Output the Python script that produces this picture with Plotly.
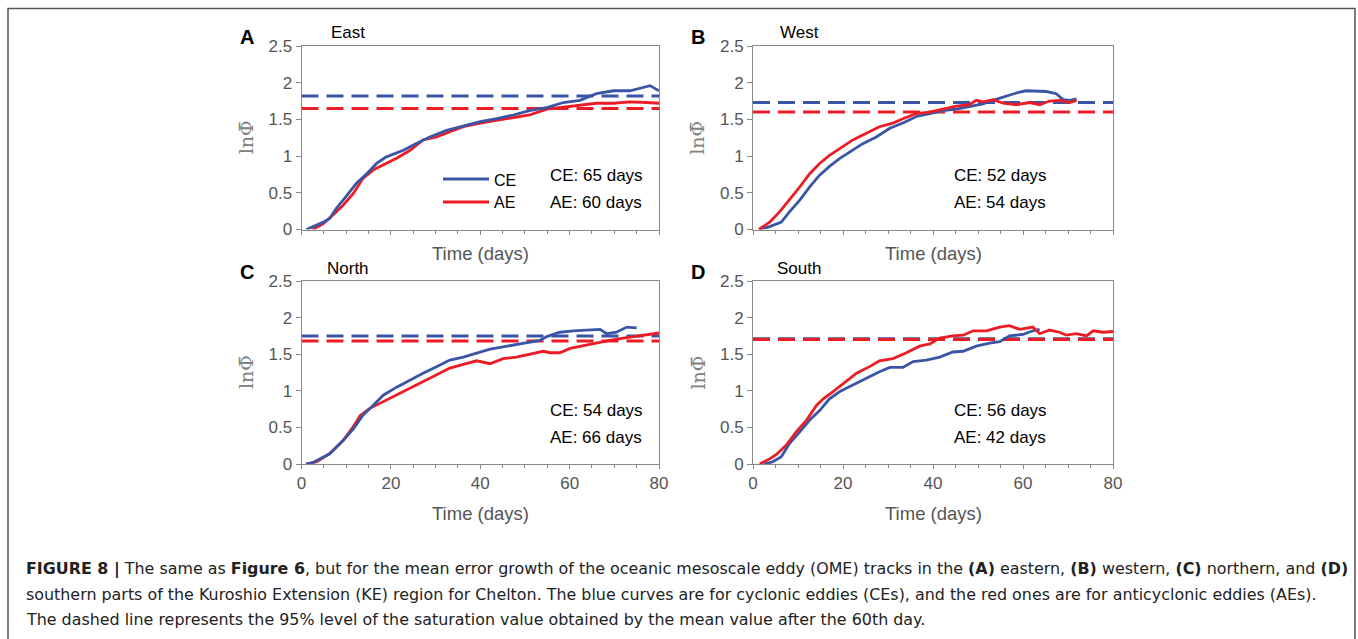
import plotly.graph_objects as go

W, H = 1358, 639

# ---------------- data ----------------
# Panel A (East)
east_ce_day = [1.1, 4.9, 6.3, 7.8, 10, 12.3, 14.6, 16.8, 19, 22.8, 25.7, 28.7, 32.5, 36.2, 40, 43.7, 47.4, 51, 54.9, 58.6, 62.3, 66, 69.8, 73.5, 75.7, 78, 80]
east_ce_val = [0, 0.10, 0.15, 0.29, 0.45, 0.63, 0.76, 0.90, 0.99, 1.08, 1.17, 1.26, 1.35, 1.41, 1.47, 1.51, 1.56, 1.62, 1.66, 1.73, 1.76, 1.85, 1.89, 1.89, 1.92, 1.96, 1.89]
east_ae_day = [2.5, 4.9, 7.1, 9.3, 11.6, 13.8, 16, 18.3, 21.3, 24.3, 27.2, 30.2, 33.2, 36.2, 40, 43.7, 47.4, 51, 54.9, 58.6, 62.3, 66, 69.8, 73.5, 77.2, 80]
east_ae_val = [0, 0.08, 0.20, 0.33, 0.49, 0.70, 0.81, 0.88, 0.97, 1.08, 1.22, 1.26, 1.33, 1.40, 1.45, 1.49, 1.53, 1.56, 1.64, 1.67, 1.69, 1.72, 1.72, 1.74, 1.73, 1.72]

# Panel B (West)
west_ce_day = [1.5, 3.7, 6.3, 8.1, 10.4, 12.6, 14.8, 17, 19.3, 21.5, 24.4, 27.4, 30.4, 33.3, 36.3, 39.3, 42.2, 45.2, 48.1, 51.1, 53.3, 56.3, 58.5, 60.7, 63, 65.2, 67.4, 68.9, 70.4, 71.9]
west_ce_val = [0, 0.04, 0.10, 0.24, 0.40, 0.58, 0.74, 0.86, 0.97, 1.06, 1.17, 1.26, 1.38, 1.45, 1.54, 1.58, 1.62, 1.64, 1.67, 1.71, 1.76, 1.82, 1.86, 1.89, 1.88, 1.88, 1.85, 1.77, 1.76, 1.78]
west_ae_day = [1.3, 3.7, 5.9, 8.1, 10.4, 12.6, 14.8, 17, 19.3, 22.2, 25.2, 28.1, 31.1, 33.3, 36.3, 39.3, 42.2, 45.2, 48.1, 49.6, 51.1, 53.3, 55.6, 58.5, 61.5, 63.7, 65.9, 68.1, 70.4, 71.9]
west_ae_val = [0, 0.10, 0.24, 0.40, 0.58, 0.76, 0.90, 1.01, 1.10, 1.22, 1.31, 1.40, 1.45, 1.51, 1.58, 1.60, 1.64, 1.68, 1.70, 1.76, 1.74, 1.77, 1.72, 1.70, 1.73, 1.70, 1.75, 1.76, 1.73, 1.76]

# Panel C (North)
north_ce_day = [1, 2.6, 6.3, 9.3, 11.6, 13.8, 16, 18.3, 21.3, 24.3, 27.2, 30.2, 33.2, 36.2, 39.2, 42.2, 45.1, 48.1, 51.1, 53.4, 54.9, 57.8, 60.8, 64.6, 66.8, 68.3, 70.5, 72.8, 75]
north_ce_val = [0, 0.02, 0.14, 0.32, 0.48, 0.67, 0.80, 0.94, 1.05, 1.15, 1.24, 1.33, 1.42, 1.46, 1.52, 1.57, 1.60, 1.63, 1.66, 1.69, 1.74, 1.80, 1.82, 1.83, 1.84, 1.78, 1.80, 1.87, 1.86]
north_ae_day = [1, 3.4, 6.3, 9.3, 11.6, 13.1, 15.3, 17.5, 20.5, 22.8, 25.7, 28.7, 31, 33.2, 36.2, 39.2, 42.2, 45.1, 48.1, 51.1, 54.1, 55.6, 57.8, 60.1, 63.1, 66, 69, 72, 75, 78, 80]
north_ae_val = [0, 0.03, 0.14, 0.32, 0.51, 0.66, 0.76, 0.83, 0.92, 0.99, 1.08, 1.17, 1.24, 1.31, 1.36, 1.41, 1.37, 1.44, 1.46, 1.50, 1.54, 1.52, 1.52, 1.58, 1.62, 1.66, 1.69, 1.72, 1.75, 1.77, 1.79]

# Panel D (South)
south_ce_day = [2.5, 4.4, 6.3, 8.1, 10.4, 12.6, 14.8, 17, 19.3, 22.2, 25.2, 28.1, 30.4, 33.3, 35.6, 38.5, 41.5, 44.4, 46.7, 49.6, 52.6, 54.8, 57, 60, 62.2, 63.7]
south_ce_val = [0, 0.03, 0.10, 0.28, 0.44, 0.60, 0.73, 0.89, 0.99, 1.08, 1.17, 1.26, 1.32, 1.32, 1.40, 1.42, 1.46, 1.53, 1.54, 1.61, 1.65, 1.67, 1.75, 1.77, 1.82, 1.84]
south_ae_day = [1.5, 3.7, 5.2, 7.4, 9.6, 11.9, 14.1, 15.6, 17.8, 20, 23, 25.9, 28.1, 31.1, 34.1, 37, 39.3, 41.5, 44.4, 46.7, 48.9, 51.9, 54.8, 57, 59.3, 62.2, 63.7, 65.9, 68.1, 69.6, 71.9, 74.1, 75.6, 77.8, 80]
south_ae_val = [0, 0.07, 0.13, 0.26, 0.44, 0.60, 0.80, 0.89, 0.99, 1.10, 1.24, 1.33, 1.41, 1.44, 1.52, 1.61, 1.64, 1.72, 1.75, 1.76, 1.82, 1.82, 1.87, 1.89, 1.84, 1.87, 1.78, 1.83, 1.80, 1.76, 1.78, 1.75, 1.82, 1.80, 1.81]

# 95% saturation levels (dashed lines): [CE, AE]
sat_east = [1.82, 1.65]
sat_west = [1.73, 1.60]
sat_north = [1.75, 1.68]
sat_south = [1.71, 1.70]

panel_letters = ["A", "B", "C", "D"]
panel_names = ["East", "West", "North", "South"]
ce_days_text = ["CE: 65 days", "CE: 52 days", "CE: 54 days", "CE: 56 days"]
ae_days_text = ["AE: 60 days", "AE: 54 days", "AE: 66 days", "AE: 42 days"]
x_ticks = [0, 20, 40, 60, 80]
y_ticks = [0, 0.5, 1, 1.5, 2, 2.5]
y_tick_labels = ["0", "0.5", "1", "1.5", "2", "2.5"]
legend_labels = ["CE", "AE"]

caption_lines = [
    "<b>FIGURE 8 |</b> The same as <b>Figure 6</b>, but for the mean error growth of the oceanic mesoscale eddy (OME) tracks in the <b>(A)</b> eastern, <b>(B)</b> western, <b>(C)</b> northern, and <b>(D)</b>",
    "southern parts of the Kuroshio Extension (KE) region for Chelton. The blue curves are for cyclonic eddies (CEs), and the red ones are for anticyclonic eddies (AEs).",
    "The dashed line represents the 95% level of the saturation value obtained by the mean value after the 60th day.",
]

BLUE = "#3A55A6"
RED = "#EC1C24"
AXIS_GREY = "#8a8a8a"
TICK_GREY = "#555555"
FONT = "Liberation Sans, Arial, sans-serif"
CAP_FONT = "DejaVu Sans, sans-serif"

panels = [
    (east_ce_day, east_ce_val, east_ae_day, east_ae_val, sat_east),
    (west_ce_day, west_ce_val, west_ae_day, west_ae_val, sat_west),
    (north_ce_day, north_ce_val, north_ae_day, north_ae_val, sat_north),
    (south_ce_day, south_ce_val, south_ae_day, south_ae_val, sat_south),
]

# panel pixel boxes (left, right, top, bottom)
boxes = [
    (301.5, 659, 46, 229.5),
    (753, 1113, 46, 229.5),
    (301.5, 659, 281, 464),
    (753, 1113, 281, 464),
]


def px(x):
    return x / W


def py(y):
    return 1 - y / H


fig = go.Figure()
layout = {}
annotations = []
shapes = []

for i, ((cd, cv, ad, av, sat), (l, r, t, b)) in enumerate(zip(panels, boxes)):
    n = "" if i == 0 else str(i + 1)
    xa, ya = "x" + n, "y" + n
    # dashed saturation lines
    fig.add_trace(go.Scatter(x=[0, 80], y=[sat[0], sat[0]], mode="lines", xaxis=xa, yaxis=ya,
                             line=dict(color=BLUE, width=3, dash="17px,8px"), showlegend=False, hoverinfo="skip"))
    fig.add_trace(go.Scatter(x=[0, 80], y=[sat[1], sat[1]], mode="lines", xaxis=xa, yaxis=ya,
                             line=dict(color=RED, width=3, dash="17px,8px"), showlegend=False, hoverinfo="skip"))
    # curves
    if i in (0, 2):
        order = [(ad, av, RED), (cd, cv, BLUE)]
    else:
        order = [(cd, cv, BLUE), (ad, av, RED)]
    for d, v, c in order:
        fig.add_trace(go.Scatter(x=d, y=v, mode="lines", xaxis=xa, yaxis=ya,
                                 line=dict(color=c, width=2.8), showlegend=False))

    bottom_row = i >= 2
    layout["xaxis" + n] = dict(
        domain=[px(l), px(r)], anchor=ya, range=[0, 80], tickvals=x_ticks,
        showticklabels=bottom_row, ticks="outside", ticklen=4, tickcolor=AXIS_GREY,
        minor=dict(dtick=5, ticks="outside", ticklen=3, tickcolor=AXIS_GREY),
        showline=True, linecolor=AXIS_GREY, linewidth=1, mirror=True, automargin=False,
        showgrid=False, zeroline=False, tickfont=dict(size=17, color=TICK_GREY, family=FONT),
        fixedrange=True,
    )
    layout["yaxis" + n] = dict(
        domain=[py(b), py(t)], anchor=xa, range=[0, 2.5], tickvals=y_ticks, ticktext=y_tick_labels,
        ticks="outside", ticklen=5, tickcolor=AXIS_GREY, automargin=False,
        showline=True, linecolor=AXIS_GREY, linewidth=1, mirror=True,
        showgrid=False, zeroline=False, tickfont=dict(size=17, color=TICK_GREY, family=FONT),
        fixedrange=True,
    )

    cx = (l + r) / 2
    cy = (t + b) / 2
    # panel letter
    annotations.append(dict(x=px(l - 55), y=py(t - 9), xref="paper", yref="paper", text="<b>%s</b>" % panel_letters[i],
                            showarrow=False, font=dict(size=20, color="black", family=FONT), xanchor="center", yanchor="middle"))
    # region name
    annotations.append(dict(x=px(l + 46), y=py(t - 13), xref="paper", yref="paper", text=panel_names[i],
                            showarrow=False, font=dict(size=17, color="black", family=FONT), xanchor="center", yanchor="middle"))
    # x title
    xt_y = b + 24 if not bottom_row else b + 49
    annotations.append(dict(x=px(cx), y=py(xt_y), xref="paper", yref="paper", text="Time (days)",
                            showarrow=False, font=dict(size=18.5, color=TICK_GREY, family=FONT), xanchor="center", yanchor="middle"))
    # y title
    annotations.append(dict(x=px(l - 56), y=py(cy), xref="paper", yref="paper", text="ln\u03a6\u0304",
                            showarrow=False, textangle=-90,
                            font=dict(size=19, color="#808080", family="DejaVu Serif, serif"),
                            xanchor="center", yanchor="middle"))
    # stats text
    tx = l + 246 if i % 2 == 0 else l + 199
    annotations.append(dict(x=px(tx), y=py(b - 54), xref="paper", yref="paper", text=ce_days_text[i],
                            showarrow=False, font=dict(size=17, color="black", family=FONT), xanchor="left", yanchor="middle"))
    annotations.append(dict(x=px(tx), y=py(b - 27), xref="paper", yref="paper", text=ae_days_text[i],
                            showarrow=False, font=dict(size=17, color="black", family=FONT), xanchor="left", yanchor="middle"))

# legend in panel A
for k, (lab, col, yy) in enumerate([(legend_labels[0], BLUE, 179), (legend_labels[1], RED, 202)]):
    shapes.append(dict(type="line", xref="paper", yref="paper", x0=px(443), x1=px(489), y0=py(yy), y1=py(yy),
                       line=dict(color=col, width=2.8)))
    annotations.append(dict(x=px(492), y=py(yy + 1), xref="paper", yref="paper", text=lab, showarrow=False,
                            font=dict(size=16, color="black", family=FONT), xanchor="left", yanchor="middle"))

# caption
for k, line in enumerate(caption_lines):
    annotations.append(dict(x=px(24), y=py(569 + 25 * k), xref="paper", yref="paper", text=line, showarrow=False,
                            font=dict(size=15.9, color="#222222", family=CAP_FONT), xanchor="left", yanchor="middle"))

# outer frame
shapes.append(dict(type="rect", xref="paper", yref="paper", x0=px(8), x1=px(1355), y0=-0.2, y1=py(8.5),
                   line=dict(color="#555555", width=1.5)))

fig.update_layout(
    width=W, height=H, margin=dict(l=0, r=0, t=0, b=0, pad=0, autoexpand=False),
    paper_bgcolor="white", plot_bgcolor="white",
    showlegend=False, annotations=annotations, shapes=shapes,
    font=dict(family=FONT),
    **layout,
)

fig.write_html(
    "out.html", config={"displayModeBar": False},
    post_script="var s=document.createElement('style');s.innerHTML='html,body{margin:0!important;padding:0!important;overflow:hidden!important}';document.head.appendChild(s);",
)
